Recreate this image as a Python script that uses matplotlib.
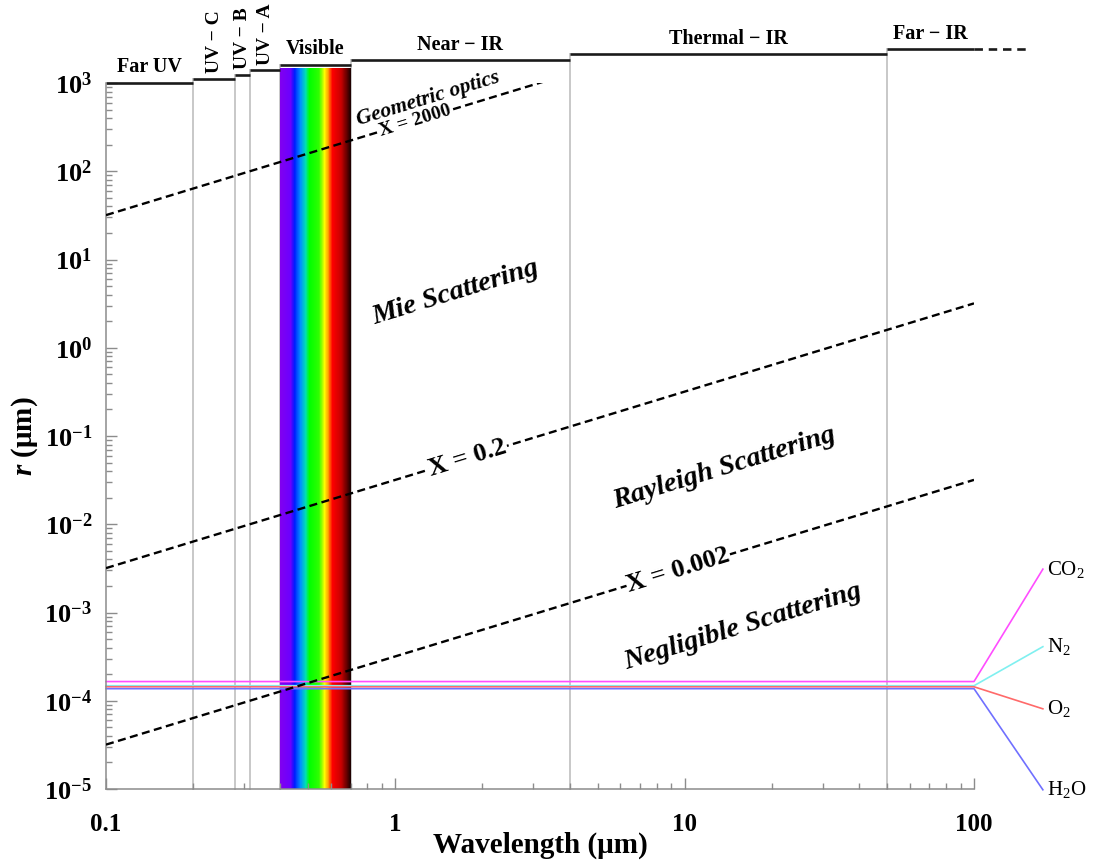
import numpy as np
import matplotlib.pyplot as plt
from matplotlib.colors import LinearSegmentedColormap
from matplotlib.ticker import FixedLocator, FuncFormatter, LogLocator, NullFormatter

plt.rcParams['font.family'] = ['Liberation Serif', 'DejaVu Serif']
plt.rcParams['mathtext.fontset'] = 'custom'
plt.rcParams['mathtext.rm'] = 'Liberation Serif'
plt.rcParams['mathtext.it'] = 'Liberation Serif:italic'
plt.rcParams['mathtext.bf'] = 'Liberation Serif:bold'
plt.rcParams['mathtext.bfit'] = 'Liberation Serif:italic:bold'

# spectral bands (um): edges, names and the height of each bracket line
band_edges = [0.1, 0.2, 0.28, 0.315, 0.4, 0.7, 4, 50, 100]
band_names = ['Far UV', 'UV − C', 'UV − B', 'UV − A', 'Visible',
              'Near − IR', 'Thermal − IR', 'Far − IR']
band_tops = [1000, 1120, 1240, 1400, 1615, 1800, 2120, 2415]
far_ir_end = 154

# size parameter X = 2*pi*r / lambda
size_params = [2000, 0.2, 0.002]
size_labels = ['X = 2000', 'X = 0.2', 'X = 0.002']
size_label_wl = [1.17, 1.78, 9.5]

# molecule radii (um)
gases = [r'CO$_\mathregular{2}$', r'N$_\mathregular{2}$', r'O$_\mathregular{2}$',
         r'H$_\mathregular{2}$O']
gas_radius = [1.65e-4, 1.48e-4, 1.44e-4, 1.37e-4]
gas_colors = ['#ff4dff', '#80f0f0', '#ff6a6a', '#7070ff']
gas_label_r = [3.1e-3, 4.1e-4, 8.1e-5, 9.8e-6]
gas_label_wl = 173

# visible spectrum colour stops (nm)
spectrum_nm = [400, 435, 447, 470, 490, 505, 545, 570, 585, 605, 650, 700]
spectrum_colors = ['#8000f0', '#6a00ff', '#0018ff', '#0090ff', '#00e0b0', '#00ff00',
                   '#30ff00', '#ffff00', '#ffa500', '#ff0000', '#c80000', '#200000']

regimes = ['Mie Scattering', 'Rayleigh Scattering', 'Negligible Scattering']
regime_wl = [1.61, 13.7, 15.9]
regime_r = [4.17, 0.0434, 6.86e-4]

x_ticks = [0.1, 1, 10, 100]
y_ticks = [1e-5, 1e-4, 1e-3, 1e-2, 1e-1, 1e0, 1e1, 1e2, 1e3]

fig = plt.figure(figsize=(10.94, 8.6), dpi=100)
ax = fig.add_axes([106 / 1094, 71 / 860, 868 / 1094, 706 / 860])
ax.set_xscale('log')
ax.set_yscale('log')
ax.set_xlim(0.1, 100)
ax.set_ylim(1e-5, 1e3)

spine_grey = '#8c8c8c'
for side in ['top', 'right']:
    ax.spines[side].set_visible(False)
for side in ['left', 'bottom']:
    ax.spines[side].set_color(spine_grey)
    ax.spines[side].set_linewidth(1.1)

ax.xaxis.set_major_locator(FixedLocator(x_ticks))
ax.yaxis.set_major_locator(FixedLocator(y_ticks))
ax.xaxis.set_minor_locator(LogLocator(base=10, subs=range(2, 10), numticks=50))
ax.yaxis.set_minor_locator(LogLocator(base=10, subs=range(2, 10), numticks=100))
ax.xaxis.set_minor_formatter(NullFormatter())
ax.yaxis.set_minor_formatter(NullFormatter())
ax.xaxis.set_major_formatter(FuncFormatter(lambda v, _: f'{v:g}'))
ax.yaxis.set_major_formatter(
    FuncFormatter(lambda v, _: r'$\mathbf{10^{%d}}$' % round(np.log10(v))))
ax.tick_params(which='both', direction='in', color=spine_grey, width=1.0)
ax.tick_params(which='major', length=8)
ax.tick_params(which='minor', length=4)
ax.tick_params(axis='y', labelsize=19, pad=10)
ax.tick_params(axis='x', labelsize=18, pad=17)
for lab in ax.get_xticklabels():
    lab.set_fontweight('bold')

# visible spectrum band
cmap = LinearSegmentedColormap.from_list(
    'spectrum',
    [((w - spectrum_nm[0]) / (spectrum_nm[-1] - spectrum_nm[0]), c)
     for w, c in zip(spectrum_nm, spectrum_colors)])
wl_edges = np.linspace(0.4, 0.7, 301)
wl_mid = 0.5 * (wl_edges[:-1] + wl_edges[1:])
mesh = ax.pcolormesh(wl_edges, [1e-5, 10 ** 3.17], wl_mid[None, :] * 1000,
                     cmap=cmap, vmin=spectrum_nm[0], vmax=spectrum_nm[-1],
                     shading='flat', zorder=1)
mesh.set_clip_on(False)

# band boundaries and brackets
for i, edge in enumerate(band_edges[1:-1], start=1):
    top = max(band_tops[i - 1], band_tops[i])
    ax.plot([edge, edge], [1e-5, top], color='#c8c8c8', lw=1.4, zorder=0.9,
            clip_on=False)
for i, name in enumerate(band_names):
    lo, hi = band_edges[i], band_edges[i + 1]
    ax.plot([lo, hi], [band_tops[i]] * 2, color='#1a1a1a', lw=1.9,
            solid_capstyle='butt', clip_on=False)
    mid = np.sqrt(lo * hi)
    if name.startswith('UV −'):
        ax.annotate(name, (mid, band_tops[i]), xytext=(0, 4),
                    textcoords='offset points', rotation=90, ha='center',
                    va='bottom', fontsize=14, fontweight='bold',
                    annotation_clip=False)
    else:
        ax.annotate(name, (mid, band_tops[i]), xytext=(0, 4),
                    textcoords='offset points', ha='center', va='bottom',
                    fontsize=14.5, fontweight='bold', annotation_clip=False)
ax.plot([band_edges[-1], far_ir_end], [band_tops[-1]] * 2, color='#1a1a1a',
        lw=1.9, dashes=(3.2, 2.2), clip_on=False)

# size parameter lines
lam = np.array([0.1, 100])
for X, label, wl in zip(size_params, size_labels, size_label_wl):
    ax.plot(lam, X * lam / (2 * np.pi), color='black', lw=1.7,
            dashes=(3.4, 1.9), zorder=3)
    ax.text(wl, X * wl / (2 * np.pi), label, rotation=17, rotation_mode='anchor',
            ha='center', va='center', fontsize=14 if X > 100 else 19,
            fontweight='bold', zorder=4,
            bbox=dict(fc='white', ec='none', pad=0.5))
ax.annotate('Geometric optics', (1.34, 2000 * 1.34 / (2 * np.pi)),
            xytext=(-3, 12), textcoords='offset points', rotation=17,
            rotation_mode='anchor', ha='center', va='center', fontsize=15.5,
            fontweight='bold', fontstyle='italic', zorder=4)

for name, wl, r in zip(regimes, regime_wl, regime_r):
    ax.text(wl, r, name, rotation=17, rotation_mode='anchor', ha='center',
            va='center', fontsize=20.5, fontweight='bold', fontstyle='italic',
            zorder=4)

# molecule sizes
for name, r, c, lr in zip(gases, gas_radius, gas_colors, gas_label_r):
    ax.plot([0.1, 100, gas_label_wl], [r, r, lr], color=c, lw=1.2, zorder=2,
            clip_on=False)
    ax.annotate(name, (gas_label_wl, lr), xytext=(3, 0),
                textcoords='offset points', ha='left', va='center', fontsize=15,
                annotation_clip=False)

ax.text(0.5, -0.080, 'Wavelength (μm)', transform=ax.transAxes, ha='center',
        va='center', fontsize=21, fontweight='bold')
ax.text(-0.094, 0.5, r'$\mathbfit{r}$ (μm)', transform=ax.transAxes,
        ha='center', va='center', rotation=90, fontsize=21, fontweight='bold')

fig.savefig('out.png', dpi=100)
